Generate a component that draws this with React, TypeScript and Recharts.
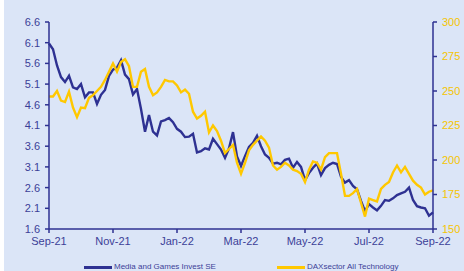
import React from "react";
import { LineChart, Line, XAxis, YAxis, Legend } from "recharts";

const tickLabels = ["Sep-21", "Nov-21", "Jan-22", "Mar-22", "May-22", "Jul-22", "Sep-22"];

// Media and Games Invest SE share price (EUR), roughly every 2 trading days
const mgi = [
  6.08, 5.94, 5.55, 5.27, 5.15, 5.3, 5.02, 4.98, 5.1, 4.78, 4.9, 4.9, 4.62, 4.84, 4.96, 5.3,
  5.45, 5.5, 5.68, 5.33, 5.22, 4.85, 4.98, 4.5, 3.95, 4.35, 3.95, 3.86, 4.2, 4.23, 4.28, 4.18,
  4.02, 3.95, 3.82, 3.83, 3.9, 3.45, 3.48, 3.55, 3.52, 3.78, 3.65, 3.52, 3.32, 3.55, 3.94, 3.35,
  3.12, 3.36, 3.58, 3.68, 3.85, 3.6, 3.4, 3.32, 3.18, 3.2, 3.16, 3.27, 3.3, 3.08, 3.22, 3.1,
  2.78, 2.95, 3.08, 3.18, 2.9, 3.07, 3.15, 3.2, 3.17, 2.86, 2.72, 2.78, 2.64, 2.56, 2.28, 2.03,
  2.2, 2.12, 2.05, 2.16, 2.3, 2.28, 2.34, 2.42, 2.46, 2.5, 2.6, 2.3, 2.15, 2.12, 2.1, 1.92, 2.0,
];

// DAXsector All Technology index, same dates
const daxTech = [
  246, 246, 250, 243, 242, 249.5, 238, 231, 238, 237.5, 245, 247, 250, 253, 258, 264,
  270, 264, 271, 273, 268, 253, 253, 264, 266, 253, 247, 249, 253, 258, 257, 257,
  254, 249, 251, 248, 235, 230, 232, 235, 220, 225, 221, 214, 205, 208, 211, 198,
  190, 198, 207, 211, 214, 217, 214, 209, 196, 193, 195, 198, 196, 193, 192, 190,
  184, 193, 199, 198, 193, 202, 205, 205, 205, 190, 174, 174, 176, 179, 169, 159,
  172, 171, 170, 179, 182, 184, 191, 196, 191, 195, 190, 185, 182, 180, 175, 177, 178,
];

const leftTicks = [1.6, 2.1, 2.6, 3.1, 3.6, 4.1, 4.6, 5.1, 5.6, 6.1, 6.6];
const rightTicks = [150, 175, 200, 225, 250, 275, 300];

const NAVY = "#2e3192";
const GOLD = "#ffc800";
const BG = "#dbe5f7";

const data = mgi.map((v, i) => ({ i, mgi: v, dax: daxTech[i] }));
const step = (mgi.length - 1) / (tickLabels.length - 1);
const xTicks = tickLabels.map((_, k) => k * step);

const renderLegend = () => (
  <div style={{ position: "relative", height: 0 }}>
    {[
      { name: "Media and Games Invest SE", color: NAVY, left: 80 },
      { name: "DAXsector All Technology", color: GOLD, left: 273 },
    ].map((it) => (
      <div
        key={it.name}
        style={{ position: "absolute", left: it.left, top: 0, display: "flex", alignItems: "center", whiteSpace: "nowrap" }}
      >
        <span style={{ display: "inline-block", width: 28, height: 3, background: it.color, marginRight: 2 }} />
        <span style={{ fontSize: 8, lineHeight: "8px", color: "#3c3f98" }}>{it.name}</span>
      </div>
    ))}
  </div>
);

export default function App() {
  return (
    <div style={{ position: "absolute", left: 0, top: 0, width: 464, height: 271, background: "#fff", overflow: "hidden" }}>
      <div style={{ position: "absolute", left: 4, top: 0, width: 460, height: 271, background: BG, fontFamily: "'Liberation Sans', Arial, sans-serif" }}>
        <LineChart width={460} height={271} data={data} margin={{ top: 22, right: 0, bottom: 12, left: 0 }}>
          <XAxis
            dataKey="i"
            type="number"
            domain={[0, mgi.length - 1]}
            ticks={xTicks}
            tickFormatter={(v, idx) => tickLabels[idx] ?? ""}
            interval={0}
            height={30}
            tickSize={4}
            tickMargin={4}
            stroke={NAVY}
            strokeWidth={1.5}
            tick={{ fill: "#3c3f98", fontSize: 11 }}
          />
          <YAxis
            yAxisId="left"
            orientation="left"
            domain={[1.6, 6.6]}
            ticks={leftTicks}
            interval={0}
            width={45}
            tickSize={4}
            tickMargin={5}
            stroke={NAVY}
            strokeWidth={1.5}
            tickFormatter={(v) => Number(v).toFixed(1)}
            tick={{ fill: "#3c3f98", fontSize: 11 }}
          />
          <YAxis
            yAxisId="right"
            orientation="right"
            domain={[150, 300]}
            ticks={rightTicks}
            interval={0}
            width={31}
            tickSize={4}
            tickMargin={5}
            stroke={NAVY}
            strokeWidth={1.5}
            tick={{ fill: "#f5c400", fontSize: 11 }}
          />
          <Legend
            verticalAlign="bottom"
            content={renderLegend}
            wrapperStyle={{ left: 0, top: 263, width: 460, bottom: "auto" }}
          />
          <Line yAxisId="left" dataKey="mgi" stroke={NAVY} strokeWidth={2.4} dot={false} isAnimationActive={false} />
          <Line yAxisId="right" dataKey="dax" stroke={GOLD} strokeWidth={2.4} dot={false} isAnimationActive={false} />
        </LineChart>
      </div>
    </div>
  );
}
